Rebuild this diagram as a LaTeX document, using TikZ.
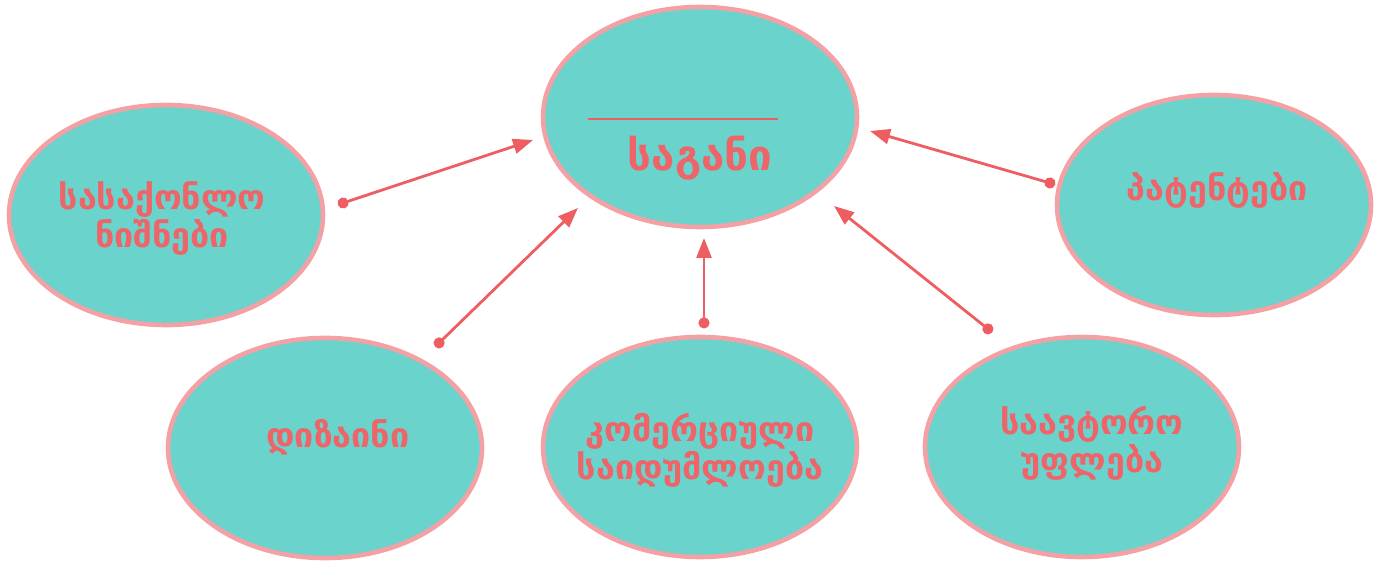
\documentclass[tikz,border=0pt]{standalone}
\usepackage{fontspec}
\setmainfont{DejaVu Sans}
\newfontfamily\geofont{DejaVu Sans}
\usetikzlibrary{shapes.geometric,arrows.meta}
\definecolor{fillc}{HTML}{69D3CC}
\definecolor{edgec}{HTML}{F3A1A5}
\definecolor{textc}{HTML}{EE6468}
\definecolor{linec}{HTML}{EE5D62}
\tikzset{
  bubble/.style={ellipse, draw=edgec, fill=fillc, line width=2.3pt, minimum width=157pt, minimum height=110pt, inner sep=0pt},
  lbl/.style={text=textc, font=\geofont\bfseries\fontsize{17}{19}\selectfont, align=center},
  conn/.style={draw=linec, line width=1.4pt, shorten <=-2.7pt, {Circle[length=5.5pt]}-{Triangle[length=10pt,width=7.5pt]}}
}
\begin{document}
\begin{tikzpicture}[x=0.5pt,y=-0.5pt]
\useasboundingbox (0,0) rectangle (1380,565);
\node[bubble] (top) at (700,117) {};
\node[bubble] (left) at (166,215) {};
\node[bubble] (right) at (1214,205) {};
\node[bubble] (bl) at (325,448) {};
\node[bubble] (bm) at (700,447) {};
\node[bubble] (br) at (1082,447) {};
\draw[draw=linec, line width=0.8pt] (588,119) coordinate (t1) -- (778,119) coordinate (t2);
\node[lbl, font=\geofont\bfseries\fontsize{21}{24}\selectfont] (ttop) at (700,158) {საგანი};
\node[lbl] (tleft) at (162,219) {სასაქონლო\\ნიშნები};
\node[lbl] (tright) at (1217,190) {პატენტები};
\node[lbl] (tbl) at (338,437) {დიზაინი};
\node[lbl] (tbm) at (700,450) {კომერციული\\საიდუმლოება};
\node[lbl] (tbr) at (1092,443) {საავტორო\\უფლება};
\coordinate (a1) at (343,203); \coordinate (b1) at (533,140);
\coordinate (a2) at (439,343); \coordinate (b2) at (578,208);
\coordinate (a3) at (704,323); \coordinate (b3) at (704,238);
\coordinate (a4) at (988,329); \coordinate (b4) at (834,206);
\coordinate (a5) at (1050,183); \coordinate (b5) at (870,131);
\draw[conn] (a1) -- (b1);
\draw[conn] (a2) -- (b2);
\draw[conn] (a3) -- (b3);
\draw[conn] (a4) -- (b4);
\draw[conn] (a5) -- (b5);
\end{tikzpicture}
\end{document}
